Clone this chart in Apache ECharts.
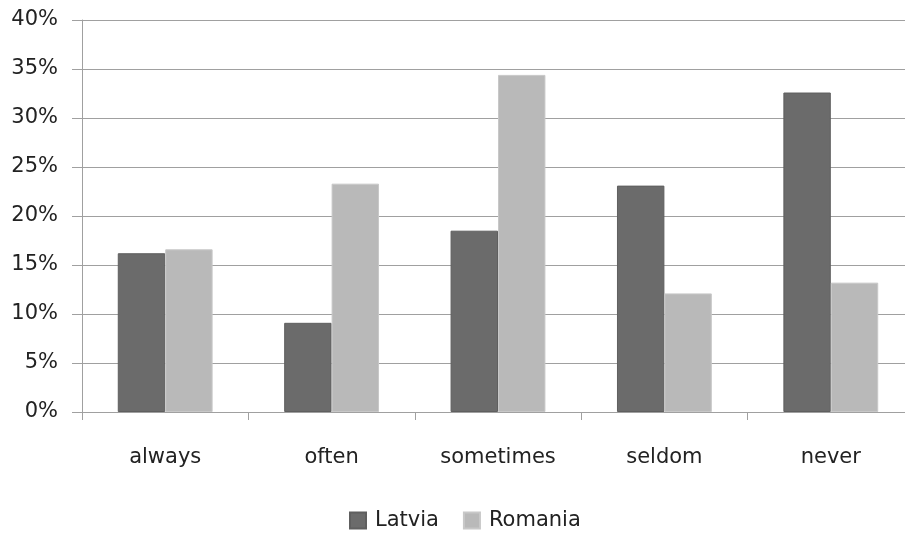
<!DOCTYPE html>
<html>
<head>
<meta charset="utf-8">
<script src="https://cdn.jsdelivr.net/npm/echarts@6/dist/echarts.min.js"></script>
<style>
html,body{margin:0;padding:0;background:#fff;}
#chart{width:905px;height:537px;}
</style>
</head>
<body>
<div id="chart"></div>
<script>
// Frequency categories and the share of answers per country (in %)
const categories = ['always', 'often', 'sometimes', 'seldom', 'never'];
const latvia = [16.2, 9.1, 18.5, 23.1, 32.6];
const romania = [16.6, 23.3, 34.4, 12.1, 13.2];
const seriesNames = ['Latvia', 'Romania'];

const chart = echarts.init(document.getElementById('chart'));
const font = 'DejaVu Sans, sans-serif';

chart.setOption({
  animation: false,
  backgroundColor: '#ffffff',
  grid: { left: 82, width: 832, top: 20, height: 392, containLabel: false, outerBoundsMode: 'none' },
  legend: {
    bottom: 1,
    left: 344,
    itemWidth: 16,
    itemHeight: 16,
    itemGap: 24,
    icon: 'rect',
    textStyle: { fontFamily: font, fontSize: 21, color: '#222', padding: [0, 0, 0, 4] },
    data: seriesNames
  },
  xAxis: {
    type: 'category',
    data: categories,
    axisLine: { lineStyle: { color: '#a0a0a0', width: 1 } },
    axisTick: { show: true, length: 8, lineStyle: { color: '#a0a0a0' } },
    axisLabel: { fontFamily: font, fontSize: 21, color: '#222', margin: 35 }
  },
  yAxis: {
    type: 'value',
    min: 0,
    max: 40,
    interval: 5,
    axisLine: { show: true, lineStyle: { color: '#a0a0a0', width: 1 } },
    axisTick: { show: true, length: 10, lineStyle: { color: '#a0a0a0' } },
    splitLine: { lineStyle: { color: '#a0a0a0', width: 1 } },
    axisLabel: { fontFamily: font, fontSize: 21, color: '#222', margin: 24, formatter: '{value}%' }
  },
  series: [
    {
      name: seriesNames[0],
      type: 'bar',
      data: latvia,
      barGap: '0%',
      barCategoryGap: '43%',
      itemStyle: { color: '#6b6b6b', borderColor: '#5f5f5f', borderWidth: 1 }
    },
    {
      name: seriesNames[1],
      type: 'bar',
      data: romania,
      barGap: '0%',
      barCategoryGap: '43%',
      itemStyle: { color: '#b9b9b9', borderColor: '#c8c8c8', borderWidth: 1 }
    }
  ]
});
</script>
</body>
</html>
